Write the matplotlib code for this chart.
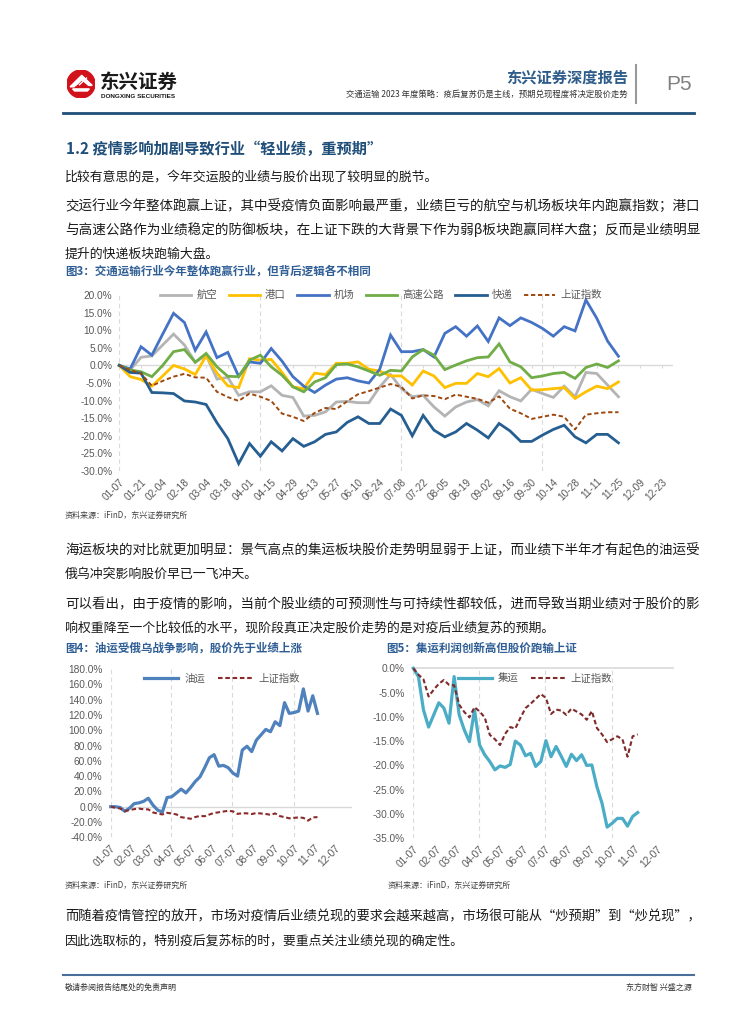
import matplotlib
matplotlib.use("Agg")
import matplotlib.pyplot as plt
from matplotlib.lines import Line2D
from matplotlib.patches import Circle, Polygon
import pandas as pd

plt.rcParams['font.family'] = ['Noto Sans CJK SC', 'DejaVu Sans']

W, H = 755, 1024
BLUE_T = "#2F5E95"
GRID = "#D9D9D9"
TICK = "#595959"

# ── data ──
start = pd.Timestamp("2022-01-07")
weeks3 = pd.date_range(start, periods=47, freq="7D")
weeks45 = pd.date_range(start, periods=45, freq="7D")

hangkong = [0, -1.3, 2.3, 2.7, 5.8, 8.9, 5.8, 0.9, 2.9, -3.9, -3.4, -8.5, -7.5, -7.5, -5.8, -8.5,
            -9.1, -14.4, -14.2, -13.2, -10.4, -10.2, -10.6, -10.6, -6.1, -2.6, -6.6, -8.9, -8.5,
            -11.8, -14.4, -11.8, -10.4, -9.7, -11.5, -7.2, -8.9, -10.1, -6.8, -8.0, -9.1, -5.9,
            -8.9, -2.0, -2.3, -5.6, -8.9]
gangkou = [0, -3.2, -4.0, -5.9, -3.0, 0.0, -1.0, -2.6, 2.7, -2.2, -5.8, -6.3, 1.9, 1.5, 1.7, -2.0,
           -6.1, -6.6, -2.2, -2.6, 0.6, 0.6, 1.0, -1.1, -1.6, -3.0, -3.0, -5.6, -1.6, -3.0, -6.3,
           -5.1, -5.1, -2.3, -3.2, -0.9, -5.0, -3.5, -7.0, -6.9, -6.6, -6.3, -9.4, -7.5, -5.9,
           -6.6, -4.7]
jichang = [0, -1.0, 5.3, 2.9, 8.9, 14.8, 12.2, 4.3, 9.5, 2.2, 3.7, -3.1, 1.0, 0.6, 4.8, 1.2, -3.2,
           -5.9, -7.7, -5.6, -3.9, -3.5, -4.4, -5.0, -1.1, 8.6, 3.9, 3.9, 4.5, 2.4, 9.1, 11.0, 8.3,
           11.2, 6.8, 13.5, 11.3, 13.5, 12.2, 10.5, 8.3, 11.0, 9.8, 18.6, 13.4, 6.9, 2.6]
gaosu = [0, -1.3, -1.8, -3.2, 0.0, 3.9, 4.5, 0.9, 3.4, -0.4, -3.1, -3.2, 1.5, 2.9, -0.4, -2.8, -6.1,
         -7.5, -4.7, -3.5, 0.2, 0.4, -0.4, -1.6, -2.8, -1.4, -1.6, 2.4, 4.5, 2.9, -1.2, 0.1, 1.3,
         2.2, 2.4, 6.1, 1.0, -0.4, -3.5, -3.0, -2.3, -2.0, -3.7, -0.6, 0.4, -0.6, 1.3]
kuaidi = [0, -2.0, -2.2, -7.7, -7.8, -8.0, -10.1, -10.4, -11.1, -16.3, -20.8, -27.9, -22.2, -25.8,
          -21.7, -24.3, -20.8, -23.0, -21.7, -19.6, -18.9, -16.2, -14.6, -16.5, -16.5, -12.4,
          -14.2, -20.0, -14.2, -18.4, -20.3, -18.9, -16.5, -18.4, -20.6, -16.5, -18.6, -21.6,
          -21.6, -19.8, -18.2, -17.0, -20.3, -22.0, -19.6, -19.6, -22.0]
shanghai = [0, -1.3, -2.3, -5.8, -4.4, -3.2, -2.4, -3.4, -3.5, -7.5, -9.0, -10.1, -8.0, -8.9,
            -10.1, -13.7, -14.6, -15.8, -13.5, -12.1, -12.4, -10.2, -8.2, -7.3, -6.3, -5.3, -6.1,
            -9.4, -8.5, -8.7, -9.6, -8.3, -8.9, -9.5, -10.6, -8.8, -12.3, -13.6, -15.2, -14.6,
            -14.0, -14.6, -18.2, -14.0, -13.6, -13.3, -13.3]
youyun = [0, 0, -1, -6, -2, 4, 5, 7, 11, 2, -4.5, -7, 12, 13, 18, 23, 18, 25, 33, 39, 51, 64, 68,
          53, 54, 51, 44, 40, 74, 79, 72, 87, 94, 101, 98, 111, 106, 136, 122, 123, 125, 154, 125,
          145, 122]
jiyun = [0, -1.7, -8.6, -12.1, -9.6, -7.1, -8.2, -11.3, -1.7, -9.6, -12.7, -15.1, -8.6, -15.8,
         -17.8, -19.2, -20.9, -20.1, -20.4, -19.8, -15.0, -15.8, -18.0, -17.5, -20.2, -19.2,
         -14.9, -18.2, -16.1, -18.1, -20.2, -17.7, -19.0, -17.8, -20.0, -19.9, -24.4, -27.8,
         -32.7, -31.9, -30.9, -30.9, -32.5, -30.5, -29.7]

ticks3 = pd.date_range("2022-01-07", "2022-12-23", freq="14D")
ticks45 = pd.date_range(start, periods=12, freq=pd.DateOffset(months=1))
quarters3 = pd.to_datetime(["2022-01-07", "2022-04-08", "2022-07-08", "2022-10-07"])
quarters45 = pd.to_datetime(["2022-01-07", "2022-04-07", "2022-07-07", "2022-10-07"])


def days(d):
    return list((d - start).days)


def fx(x):
    return x / W


def fy(y):
    return 1 - y / H


def box(l, t, r, b):
    return [l / W, 1 - b / H, (r - l) / W, (b - t) / H]


fig = plt.figure(figsize=(W / 100, H / 100), dpi=100)
renderer = fig.canvas.get_renderer()


def body(s, y, full=False, x0=65, x1=698, size=9.3):
    t = fig.text(fx(x0), fy(y), s, fontsize=size, va="center", ha="left", color="#1A1A1A",
                 fontweight="light")
    if full:
        w = t.get_window_extent(renderer).width
        t.set_fontsize(size * (x1 - x0) / w)
    return t


def hline(x0, x1, y, color, lw):
    fig.add_artist(Line2D([fx(x0), fx(x1)], [fy(y), fy(y)], color=color, lw=lw,
                          transform=fig.transFigure))


def style(ax, yt, xlim, xt, xlabels, ypad):
    ax.set_ylim(yt[0], yt[-1])
    ax.set_yticks(yt)
    ax.set_yticklabels([f"{v:.1f}%" for v in yt], family="Liberation Sans", fontsize=7.3,
                       color=TICK)
    ax.set_xlim(*xlim)
    ax.set_xticks(xt)
    ax.set_xticklabels(xlabels, rotation=45, ha="right", rotation_mode="anchor",
                       family="Liberation Sans", fontsize=7.3, color=TICK)
    for s in ax.spines.values():
        s.set_visible(False)
    ax.tick_params(axis="y", length=0, pad=ypad)
    ax.tick_params(axis="x", length=0, pad=4)
    ax.patch.set_alpha(0)


# ── header ──
lax = fig.add_axes(box(67, 70, 95, 98))
lax.set_xlim(-1, 1)
lax.set_ylim(-1, 1)
lax.set_aspect("equal")
lax.axis("off")
lax.add_patch(Circle((0, 0), 1, color="#D2121B"))
lax.add_patch(Polygon([(-0.78, -0.2), (0.05, 0.62), (0.8, -0.1), (0.55, -0.1), (0.05, 0.32),
                       (-0.5, -0.2)], color="white"))
for k in range(3):
    lax.plot([-0.55 + 0.22 * k, -0.05 + 0.22 * k], [-0.05, 0.42], color="white", lw=1.0)
lax.add_patch(Polygon([(-0.6, -0.35), (0.6, -0.35), (0.45, -0.5), (-0.45, -0.5)], color="white"))

fig.text(fx(100), fy(82), "东兴证券", fontsize=14, fontweight="bold", va="center", ha="left",
         color="#1A1A1A")
fig.text(fx(101), fy(96), "DONGXING SECURITIES", fontsize=4.6, fontweight="bold",
         family="Liberation Sans", va="center", ha="left", color="#1A1A1A")
fig.text(fx(628), fy(78), "东兴证券深度报告", fontsize=11, fontweight="bold", va="center",
         ha="right", color="#2E5C8A")
fig.text(fx(628), fy(94), "交通运输 2023 年度策略：疫后复苏仍是主线，预期兑现程度将决定股价走势",
         fontsize=6.0, va="center", ha="right", color="#333333")
fig.add_artist(Line2D([fx(636), fx(636)], [fy(65), fy(103)], color="#999999", lw=1.5,
                      transform=fig.transFigure))
fig.text(fx(666), fy(85), "P5", fontsize=15, family="Liberation Sans", va="center", ha="left",
         color="#808080")
hline(63, 694, 113, "#1F4E79", 2.0)

# ── text ──
fig.text(fx(66), fy(149), "1.2 疫情影响加剧导致行业“轻业绩，重预期”", fontsize=11,
         fontweight="bold", va="center", ha="left", color="#1F4E79")
body("比较有意思的是，今年交运股的业绩与股价出现了较明显的脱节。", 177)
body("交运行业今年整体跑赢上证，其中受疫情负面影响最严重，业绩巨亏的航空与机场板块年内跑赢指数；港口", 206, True)
body("与高速公路作为业绩稳定的防御板块，在上证下跌的大背景下作为弱β板块跑赢同样大盘；反而是业绩明显", 230, True)
body("提升的快递板块跑输大盘。", 254)

fig.text(fx(65), fy(271), "图3：交通运输行业今年整体跑赢行业，但背后逻辑各不相同", fontsize=8.3,
         fontweight="bold", va="center", ha="left", color=BLUE_T)

# ── chart 3 ──
ax3 = fig.add_axes(box(119.3, 295, 672.7, 471))
x3 = days(weeks3)
for q in days(quarters3):
    ax3.axvline(q, color=GRID, lw=0.8, ls=(0, (4, 3)), zorder=0)
ax3.axhline(0, color=GRID, lw=1.0, zorder=0)
ax3.vlines(days(ticks3), -0.8, 0, color=GRID, lw=0.8, zorder=0)
series3 = [("航空", hangkong, "#B4B4B4"), ("港口", gangkou, "#FFC000"),
           ("机场", jichang, "#4472C4"), ("高速公路", gaosu, "#70AD47"),
           ("快递", kuaidi, "#255E91")]
for name, vals, c in series3:
    ax3.plot(x3, vals, color=c, lw=2.0, label=name, clip_on=False, solid_joinstyle="miter")
ax3.plot(x3, shanghai, color="#9E480E", lw=1.4, dashes=(2.2, 1.4), label="上证指数")
style(ax3, list(range(-30, 21, 5)), (0, 357), days(ticks3), ticks3.strftime("%m-%d"), 5)
leg = ax3.legend(ncol=6, loc="center left", bbox_to_anchor=(fx(160), fy(295)),
                 bbox_transform=fig.transFigure, frameon=False, fontsize=7.5,
                 handlelength=3.0, handletextpad=0.5, columnspacing=1.1,
                 borderaxespad=0, borderpad=0)
for t in leg.get_texts():
    t.set_color(TICK)

fig.text(fx(65), fy(515), "资料来源：iFinD，东兴证券研究所", fontsize=5.8, va="center", ha="left",
         color="#404040", style="italic")

body("海运板块的对比就更加明显：景气高点的集运板块股价走势明显弱于上证，而业绩下半年才有起色的油运受", 550, True)
body("俄乌冲突影响股价早已一飞冲天。", 574)
body("可以看出，由于疫情的影响，当前个股业绩的可预测性与可持续性都较低，进而导致当期业绩对于股价的影", 604, True)
body("响权重降至一个比较低的水平，现阶段真正决定股价走势的是对疫后业绩复苏的预期。", 628)

fig.text(fx(65), fy(648), "图4：油运受俄乌战争影响，股价先于业绩上涨", fontsize=8.3,
         fontweight="bold", va="center", ha="left", color=BLUE_T)
fig.text(fx(386), fy(648), "图5：集运利润创新高但股价跑输上证", fontsize=8.3,
         fontweight="bold", va="center", ha="left", color=BLUE_T)

# ── chart 4 ──
ax4 = fig.add_axes(box(110.7, 669, 351.7, 837.3))
x45 = days(weeks45)
for q in days(quarters45):
    ax4.axvline(q, color=GRID, lw=0.8, ls=(0, (4, 3)), zorder=0)
ax4.axhline(0, color=GRID, lw=1.0, zorder=0)
ax4.plot(x45, youyun, color="#4F81BD", lw=2.3, label="油运", clip_on=False)
ax4.plot(x45, shanghai[:45], color="#8B2A2A", lw=1.5, dashes=(2.2, 1.3), label="上证指数")
style(ax4, list(range(-40, 181, 20)), (0, 359), days(ticks45), ticks45.strftime("%m-%d"), 6)
leg = ax4.legend(ncol=2, loc="center left", bbox_to_anchor=(fx(144), fy(679)),
                 bbox_transform=fig.transFigure, frameon=False, fontsize=7.5,
                 handlelength=3.3, handletextpad=0.6, columnspacing=1.2,
                 borderaxespad=0, borderpad=0)
for t in leg.get_texts():
    t.set_color(TICK)

# ── chart 5 ──
ax5 = fig.add_axes(box(413.3, 668.3, 672.7, 838.3))
for q in days(quarters45):
    ax5.axvline(q, color=GRID, lw=0.8, ls=(0, (4, 3)), zorder=0)
ax5.axhline(0, color=GRID, lw=1.2, zorder=0, clip_on=False)
ax5.plot(x45, jiyun, color="#4BACC6", lw=2.3, label="集运", clip_on=False)
ax5.plot(x45, shanghai[:45], color="#7F2A2A", lw=1.5, dashes=(2.2, 1.3), label="上证指数",
         clip_on=False)
style(ax5, list(range(-35, 1, 5)), (0, 356), days(ticks45), ticks45.strftime("%m-%d"), 6)
leg = ax5.legend(ncol=2, loc="center left", bbox_to_anchor=(fx(458), fy(679)),
                 bbox_transform=fig.transFigure, frameon=False, fontsize=7.5,
                 handlelength=3.3, handletextpad=0.5, columnspacing=1.2,
                 borderaxespad=0, borderpad=0)
for t in leg.get_texts():
    t.set_color(TICK)

fig.text(fx(65), fy(885), "资料来源：iFinD，东兴证券研究所", fontsize=5.8, va="center", ha="left",
         color="#404040", style="italic")
fig.text(fx(388), fy(885), "资料来源：iFinD，东兴证券研究所", fontsize=5.8, va="center", ha="left",
         color="#404040", style="italic")

body("而随着疫情管控的放开，市场对疫情后业绩兑现的要求会越来越高，市场很可能从“炒预期”到“炒兑现”，", 917, True)
body("因此选取标的，特别疫后复苏标的时，要重点关注业绩兑现的确定性。", 941)

# ── footer ──
hline(63, 694, 975, "#4A6E9A", 1.5)
fig.text(fx(65), fy(987), "敬请参阅报告结尾处的免责声明", fontsize=5.8, va="center", ha="left",
         color="#333333")
fig.text(fx(692), fy(987), "东方财智 兴盛之源", fontsize=5.8, va="center", ha="right",
         color="#333333")

fig.savefig("out.png", dpi=100)
